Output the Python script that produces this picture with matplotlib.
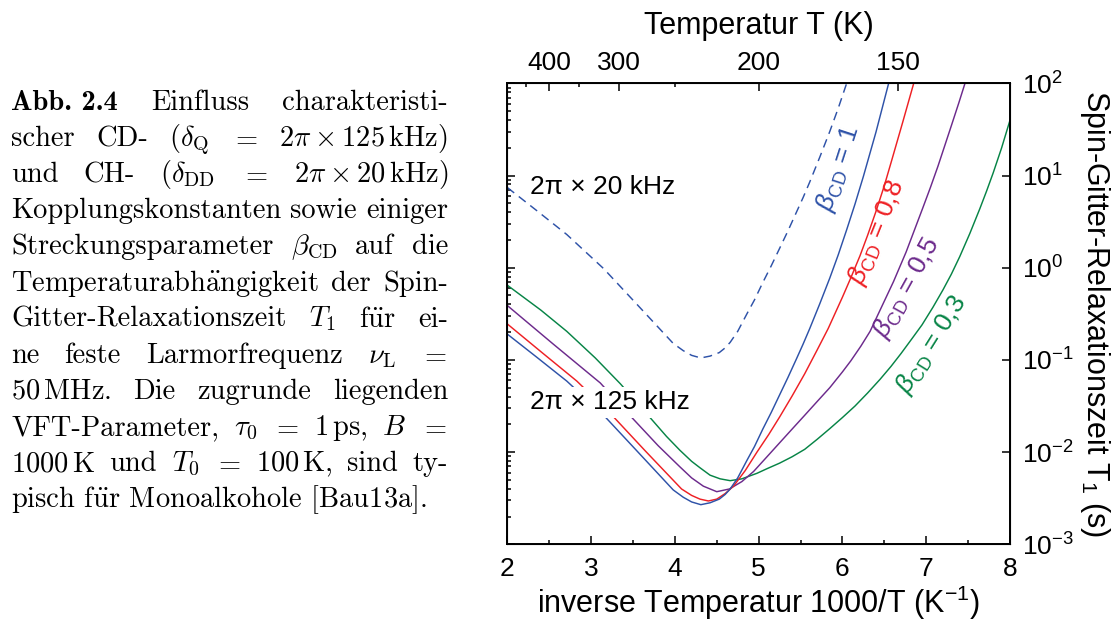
import matplotlib
matplotlib.use("Agg")
import matplotlib.pyplot as plt
from matplotlib.ticker import MultipleLocator, LogLocator, NullFormatter

plt.rcParams['font.family'] = ['Liberation Sans', 'DejaVu Sans']
plt.rcParams['font.size'] = 19
plt.rcParams['mathtext.fontset'] = 'custom'
plt.rcParams['mathtext.rm'] = 'Liberation Sans'
plt.rcParams['mathtext.it'] = 'Liberation Sans:italic'
plt.rcParams['mathtext.bf'] = 'Liberation Sans:bold'

# 1000/T (1/K) and T1 (s)
x_b10 = [2.00, 2.35, 2.71, 3.15, 3.55, 3.98, 4.10, 4.20, 4.31, 4.42, 4.53, 4.60,
         4.66, 4.75, 4.86, 4.95, 5.05, 5.15, 5.25, 5.35, 5.45, 5.53, 5.61, 5.73,
         5.85, 5.95, 6.05, 6.15, 6.25, 6.40, 6.56]
t1_b10 = [0.1905, 0.1072, 0.0589, 0.0251, 0.01023, 0.00389, 0.00324, 0.00288,
          0.00269, 0.00282, 0.00309, 0.00347, 0.00398, 0.00525, 0.00813, 0.01148,
          0.0178, 0.0269, 0.0417, 0.0646, 0.102, 0.148, 0.219, 0.407,
          0.776, 1.380, 2.57, 4.90, 9.77, 29.5, 107]

x_b08 = [2.00, 2.40, 2.83, 3.25, 3.65, 4.08, 4.20, 4.30, 4.40, 4.50, 4.60, 4.70,
         4.84, 4.98, 5.12, 5.25, 5.40, 5.55, 5.70, 5.83, 6.00, 6.10, 6.21, 6.30,
         6.40, 6.50, 6.59, 6.72, 6.86]
t1_b08 = [0.2455, 0.123, 0.0589, 0.0251, 0.01023, 0.00398, 0.00339, 0.00309,
          0.00295, 0.00309, 0.00355, 0.00427, 0.00631, 0.0100, 0.0155, 0.0240,
          0.0407, 0.0708, 0.129, 0.219, 0.479, 0.776, 1.35, 2.239,
          4.07, 7.76, 14.8, 38.0, 107]

x_b05 = [2.00, 2.55, 3.11, 3.44, 3.80, 4.06, 4.20, 4.34, 4.50, 4.65, 4.80, 4.94,
         5.10, 5.25, 5.40, 5.55, 5.70, 5.85, 6.00, 6.10, 6.22, 6.33, 6.47, 6.61,
         6.76, 6.86, 6.96, 7.05, 7.14, 7.22, 7.30, 7.39, 7.48]
t1_b05 = [0.389, 0.148, 0.0562, 0.0263, 0.01175, 0.00692, 0.00525, 0.00427,
          0.00372, 0.00398, 0.00479, 0.00617, 0.00891, 0.0126, 0.0178, 0.0251,
          0.0355, 0.0501, 0.0741, 0.0977, 0.141, 0.204, 0.380, 0.708,
          1.479, 2.57, 4.47, 7.41, 12.6, 20.9, 34.7, 61.7, 112]

x_b03 = [2.00, 2.40, 2.71, 3.05, 3.35, 3.66, 3.90, 4.06, 4.20, 4.30, 4.42, 4.54,
         4.66, 4.80, 4.98, 5.10, 5.25, 5.40, 5.55, 5.70, 5.85, 6.00, 6.15, 6.30,
         6.45, 6.58, 6.70, 6.83, 6.95, 7.08, 7.20, 7.30, 7.40, 7.52, 7.64, 7.72,
         7.80, 7.90, 8.00]
t1_b03 = [0.646, 0.347, 0.204, 0.105, 0.0550, 0.0263, 0.0148, 0.01047, 0.00794,
          0.00676, 0.00562, 0.00513, 0.00490, 0.00513, 0.00589, 0.00661, 0.00759,
          0.00891, 0.01072, 0.0138, 0.0180, 0.0237, 0.0316, 0.0437,
          0.0617, 0.0851, 0.1175, 0.170, 0.240, 0.372, 0.575, 0.851, 1.318,
          2.344, 4.365, 6.76, 10.72, 19.95, 39.8]

# CH coupling (2pi x 20 kHz), beta = 1
x_ch = [2.00, 2.35, 2.71, 3.15, 3.55, 3.98, 4.10, 4.20, 4.31, 4.42, 4.53, 4.60,
        4.66, 4.75, 4.86, 4.95, 5.05, 5.15, 5.25, 5.35, 5.45, 5.53, 5.61, 5.73,
        5.85, 5.95, 6.08]
t1_ch = [7.41, 4.17, 2.29, 0.977, 0.398, 0.151, 0.126, 0.112, 0.105, 0.110, 0.120,
         0.135, 0.155, 0.204, 0.316, 0.447, 0.692, 1.047, 1.62, 2.51, 3.98, 5.75,
         8.51, 15.85, 30.2, 53.7, 120]

T_major = [400, 300, 200, 150]
T_minor = [450, 350, 250]

blue, red, purple, green = '#2e52a8', '#ee2024', '#6c2a8c', '#078446'

W, H = 1116, 621
fig = plt.figure(figsize=(W / 100, H / 100), dpi=100)
ax = fig.add_axes([507.3 / W, 1 - 544.3 / H, (1010 - 507.3) / W, (544.3 - 83.3) / H])

lw = 1.05
ax.plot(x_b03, t1_b03, color=green, lw=lw)
ax.plot(x_b05, t1_b05, color=purple, lw=lw)
ax.plot(x_b08, t1_b08, color=red, lw=lw)
ax.plot(x_b10, t1_b10, color=blue, lw=lw)
ax.plot(x_ch, t1_ch, color=blue, lw=lw, linestyle=(0, (6, 4)))

ax.set_yscale('log')
ax.set_xlim(2, 8)
ax.set_ylim(1e-3, 1e2)

for s in ax.spines.values():
    s.set_linewidth(1.4)

ax.xaxis.set_major_locator(MultipleLocator(1))
ax.xaxis.set_minor_locator(MultipleLocator(0.5))
ax.yaxis.set_major_locator(LogLocator(base=10, numticks=10))
ax.yaxis.set_minor_locator(LogLocator(base=10, subs=range(2, 10), numticks=10))
ax.yaxis.set_minor_formatter(NullFormatter())
ax.tick_params(axis='both', which='both', direction='in', width=1.1)
ax.tick_params(axis='both', which='major', length=6)
ax.tick_params(axis='both', which='minor', length=3.2)
ax.tick_params(axis='x', top=False, pad=9)
ax.tick_params(axis='y', left=True, right=True, labelleft=False, labelright=True, pad=9)

ax.set_xlabel('inverse Temperatur 1000/T (K$^{-1}$)', fontsize=22, labelpad=2)
ax.yaxis.set_label_position('right')
ax.set_ylabel('Spin-Gitter-Relaxationszeit T$_1$ (s)', fontsize=22, rotation=270,
              labelpad=27)

ax2 = ax.twiny()
ax2.set_xlim(ax.get_xlim())
ax2.set_xticks([1000 / t for t in T_major])
ax2.set_xticklabels([str(t) for t in T_major])
ax2.set_xticks([1000 / t for t in T_minor], minor=True)
ax2.tick_params(axis='x', which='both', direction='in', width=1.1, pad=6)
ax2.tick_params(axis='x', which='major', length=6)
ax2.tick_params(axis='x', which='minor', length=3.2)
ax2.set_xlabel('Temperatur T (K)', fontsize=22, labelpad=12)

ax.text(2.265, 6.3, '2π × 20 kHz', ha='left', va='baseline')
ax.text(2.266, 0.0291, '2π × 125 kHz', ha='left', va='baseline',
        bbox=dict(fc='white', ec='none', pad=2.5))

lab = dict(ha='center', va='center', rotation_mode='anchor')
ax.text(5.946, 12.0, r'$\beta_\mathrm{CD}$ = 1', color=blue, rotation=72, **lab)
ax.text(6.41, 2.44, r'$\beta_\mathrm{CD}$ = 0,8', color=red, rotation=68, **lab)
ax.text(6.767, 0.60, r'$\beta_\mathrm{CD}$ = 0,5', color=purple, rotation=61, **lab)
ax.text(7.06, 0.145, r'$\beta_\mathrm{CD}$ = 0,3', color=green, rotation=58, **lab)

# caption, justified line by line
caption_lines = [
    ['Abb. 2.4', 'Einfluss', 'charakteristi-'],
    ['scher', 'CD-', r'$(\delta_\mathrm{Q}$', '$=$', r'$2\pi\times125\,$kHz)'],
    ['und', 'CH-', r'$(\delta_\mathrm{DD}$', '$=$', r'$2\pi\times20\,$kHz)'],
    ['Kopplungskonstanten', 'sowie', 'einiger'],
    ['Streckungsparameter', r'$\beta_\mathrm{CD}$', 'auf', 'die'],
    [r'Temperaturabh$\ddot{\mathrm{a}}$ngigkeit', 'der', 'Spin-'],
    ['Gitter-Relaxationszeit', '$T_1$', r'f$\ddot{\mathrm{u}}$r', 'ei-'],
    ['ne', 'feste', 'Larmorfrequenz', r'$\nu_\mathrm{L}$', '$=$'],
    [r'50$\,$MHz.', 'Die', 'zugrunde', 'liegenden'],
    ['VFT-Parameter,', r'$\tau_0$', '$=$', r'1$\,$ps,', '$B$', '$=$'],
    [r'1000$\,$K', 'und', '$T_0$', '$=$', r'100$\,$K,', 'sind', 'ty-'],
    [r'pisch f$\ddot{\mathrm{u}}$r Monoalkohole [Bau13a].'],
]
cap_left, cap_right = 11, 448
base0, step = 110, 36.1
cap_kw = dict(fontsize=20.5, va='baseline', ha='left', math_fontfamily='cm')

renderer = fig.canvas.get_renderer()
for i, words in enumerate(caption_lines):
    yb = 1 - (base0 + i * step) / H
    texts = []
    for w in words:
        fam = ['cmb10', 'DejaVu Serif'] if w == 'Abb. 2.4' else ['cmr10', 'DejaVu Serif']
        texts.append(fig.text(0, yb, w, family=fam, **cap_kw))
    widths = [t.get_window_extent(renderer).width for t in texts]
    if len(words) > 1:
        gap = (cap_right - cap_left - sum(widths)) / (len(words) - 1)
    else:
        gap = 0
    xp = cap_left
    for t, wd in zip(texts, widths):
        t.set_x(xp / W)
        xp += wd + gap

fig.savefig('out.png', dpi=100)
